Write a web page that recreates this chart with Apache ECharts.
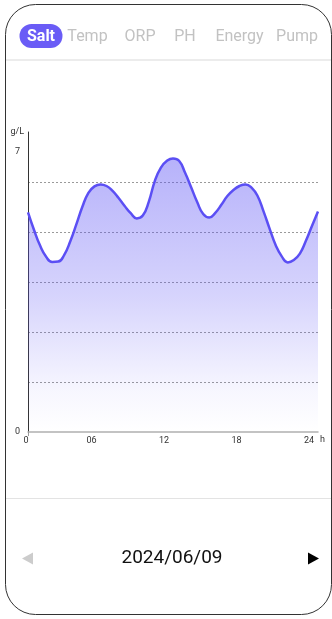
<!DOCTYPE html>
<html>
<head>
<meta charset="utf-8">
<script src="https://cdn.jsdelivr.net/npm/echarts@6/dist/echarts.min.js"></script>
<style>
html,body{margin:0;padding:0;background:#fff;}
#chart{width:332px;height:619px;}
</style>
</head>
<body>
<div id="chart"></div>
<script>
// ---- data ----
var tabs = ['Salt', 'Temp', 'ORP', 'PH', 'Energy', 'Pump'];
var activeTab = 'Salt';
var hours = [0, 0.5, 1, 1.5, 2, 2.5, 3, 3.5, 4, 4.5, 5, 5.5, 6, 6.5, 7, 7.5, 8, 8.5, 9, 9.5, 10, 10.5, 11, 11.5,
             12, 12.5, 13, 13.5, 14, 14.5, 15, 15.5, 16, 16.5, 17, 17.5, 18, 18.5, 19, 19.5, 20, 20.5, 21, 21.5,
             22, 22.5, 23, 23.5, 24];
var saltValues = [5.49, 5.05, 4.66, 4.38, 4.25, 4.26, 4.43, 4.77, 5.19, 5.63, 5.98, 6.14, 6.19, 6.15, 6.03, 5.85,
                  5.65, 5.47, 5.34, 5.41, 5.76, 6.28, 6.61, 6.78, 6.84, 6.78, 6.48, 6.12, 5.75, 5.45, 5.36, 5.48,
                  5.68, 5.9, 6.05, 6.15, 6.19, 6.11, 5.9, 5.51, 5.08, 4.67, 4.39, 4.24, 4.3, 4.46, 4.78, 5.15, 5.51];
var xTickLabels = ['0', '06', '12', '18', '24'];
var yLabelValues = [0, 7];
var yUnit = 'g/L';
var xUnit = 'h';
var dateText = '2024/06/09';

var FONT = 'Roboto, "DejaVu Sans", sans-serif';
var chart = echarts.init(document.getElementById('chart'));

var seriesData = hours.map(function (h, i) { return [h, saltValues[i]]; });

var tabCenters = [41, 87.5, 140, 185, 239.5, 297];
var graphics = [
  { type: 'rect', shape: { x: 5.5, y: 4.5, width: 326, height: 610, r: 30 },
    style: { fill: 'none', stroke: '#333', lineWidth: 1 }, z: 100, silent: true },
  { type: 'line', shape: { x1: 6, y1: 60, x2: 332, y2: 60 },
    style: { stroke: '#e6e6e6', lineWidth: 1.5 }, silent: true },
  { type: 'line', shape: { x1: 6, y1: 498.5, x2: 332, y2: 498.5 },
    style: { stroke: '#e3e3e3', lineWidth: 1.2 }, silent: true },
  { type: 'rect', shape: { x: 19.5, y: 24, width: 43, height: 24, r: 12 },
    style: { fill: '#6a5cf6' }, silent: true },
  { type: 'text', x: 172, y: 558,
    style: { text: dateText, fill: '#111', font: '400 19px ' + FONT, align: 'center', verticalAlign: 'middle' } },
  { type: 'polygon', shape: { points: [[22, 558.5], [33, 552.5], [33, 564.5]] },
    style: { fill: '#cccccc' }, silent: true },
  { type: 'polygon', shape: { points: [[308, 552.5], [319, 558.5], [308, 564.5]] },
    style: { fill: '#000' }, silent: true }
];
tabs.forEach(function (t, i) {
  var active = t === activeTab;
  graphics.push({
    type: 'text', x: tabCenters[i], y: 36.5, z: 10,
    style: {
      text: t,
      fill: active ? '#fff' : '#c2c2c2',
      font: (active ? '700 ' : '400 ') + '16px ' + FONT,
      align: 'center', verticalAlign: 'middle'
    }
  });
});

chart.setOption({
  animation: false,
  backgroundColor: '#fff',
  graphic: graphics,
  grid: { left: 28, right: 14, top: 132, bottom: 187, containLabel: false },
  xAxis: {
    type: 'value', min: 0, max: 24, interval: 6,
    name: xUnit, nameLocation: 'end', nameGap: 2,
    nameTextStyle: { color: '#333', fontSize: 9, fontFamily: FONT, verticalAlign: 'top', padding: [3, 0, 0, 0] },
    axisLine: { show: true, lineStyle: { color: '#b0b0b0', width: 1.5 } },
    axisTick: { show: true, customValues: [0], length: 4, lineStyle: { color: '#999' } },
    splitLine: { show: false },
    axisLabel: {
      color: '#333', fontSize: 9, fontFamily: FONT, margin: 4,
      align: 'right', padding: [0, 4, 0, 0],
      alignMinLabel: 'center', alignMaxLabel: 'right',
      formatter: function (v) { return xTickLabels[Math.round(v / 6)]; }
    }
  },
  yAxis: {
    type: 'value', min: 0, max: 7.5, interval: 1.25,
    name: yUnit, nameLocation: 'end', nameGap: 0,
    nameTextStyle: { color: '#333', fontSize: 9, fontFamily: FONT, align: 'right', verticalAlign: 'middle', padding: [0, 4, 0, 0] },
    axisLine: { show: true, lineStyle: { color: '#333', width: 1 } },
    axisTick: { show: false },
    axisLabel: { color: '#333', fontSize: 9, fontFamily: FONT, margin: 8, customValues: yLabelValues },
    splitLine: { show: true, showMinLine: false, showMaxLine: false,
      lineStyle: { color: '#9a9a9a', type: [2, 2], width: 1 } }
  },
  series: [{
    type: 'line',
    data: seriesData,
    smooth: true,
    symbol: 'none',
    lineStyle: { color: '#5b4ff4', width: 2.5 },
    areaStyle: {
      color: new echarts.graphic.LinearGradient(0, 0, 0, 1, [
        { offset: 0, color: 'rgba(93,83,245,0.64)' },
        { offset: 0.5, color: 'rgba(93,83,245,0.36)' },
        { offset: 0.85, color: 'rgba(93,83,245,0.07)' },
        { offset: 1, color: 'rgba(93,83,245,0)' }
      ])
    }
  }]
});
</script>
</body>
</html>
